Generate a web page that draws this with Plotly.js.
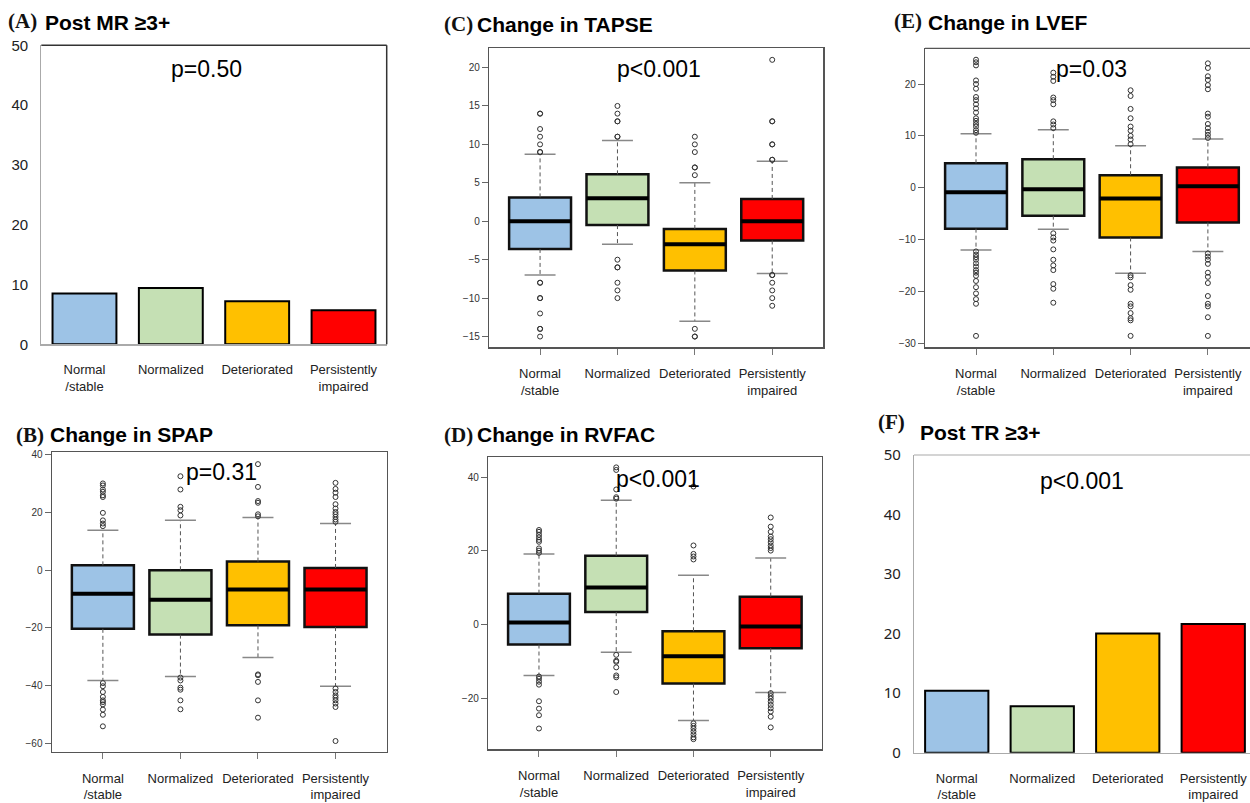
<!DOCTYPE html>
<html>
<head>
<meta charset="utf-8">
<script src="https://cdn.plot.ly/plotly-3.0.1.min.js"></script>
<style>html,body{margin:0;padding:0;background:#fff;}#chart{width:1250px;height:803px;}</style>
</head>
<body>
<div id="chart"></div>
<script>
// ---------- DATA ----------
const categories = ["Normal<br>/stable", "Normalized", "Deteriorated", "Persistently<br>impaired"];

// (A) Post MR >=3+ (%)
const postMR = [8.5, 9.4, 7.2, 5.7];
// (F) Post TR >=3+ (%)
const postTR = [10.4, 7.8, 20.0, 21.6];

// (C) Change in TAPSE
const tapseQ1 = [-3.6, -0.5, -6.4, -2.5];
const tapseMedian = [0, 3, -3, 0];
const tapseQ3 = [3.1, 6.1, -1.0, 2.9];
const tapseLowerWhisker = [-7.0, -3.0, -13.0, -6.8];
const tapseUpperWhisker = [8.7, 10.5, 5.0, 7.8];
const tapseOutliers = [
  [14, 14, 12, 11, 10, 9, 9, -8, -8, -10, -10, -12, -14, -14, -15],
  [15, 14, 13, 13, 11, 11, -5, -6, -6, -8, -9, -10],
  [11, 10, 9, 7, 7, 6, -14, -15, -15],
  [21, 13, 13, 10, 10, 8, 8, -7, -7, -8, -9, -10, -11]
];

// (B) Change in SPAP
const spapQ1 = [-20.3, -22.3, -19.1, -19.7];
const spapMedian = [-8.1, -10.2, -6.7, -6.7];
const spapQ3 = [1.7, 0.0, 3.0, 0.8];
const spapLowerWhisker = [-38.2, -36.8, -30.2, -40.2];
const spapUpperWhisker = [13.9, 17.3, 18.3, 16.2];
const spapOutliers = [
  [30.1, 29.4, 28.0, 27.2, 26.0, 25.4, 19.9, 17.3, 16.2, 15.3, -39.1, -40.2, -42.2, -43.9, -45.1, -45.7, -46.5, -48.3, -50.1, -54.1],
  [32.6, 28.0, 22.0, 20.8, 19.0, -37.2, -38.2, -40.7, -41.4, -45.1, -48.2],
  [36.8, 28.9, 24.0, 23.4, 19.4, 18.7, -36.1, -36.4, -38.7, -45.1, -51.1],
  [30.3, 28.2, 26.9, 25.4, 22.9, 21.4, 20.2, 19.4, 18.5, 17.6, 16.8, -41.0, -42.2, -43.4, -44.2, -45.1, -46.2, -47.4, -59.2]
];

// (D) Change in RVFAC
const rvfacQ1 = [-5.4, 3.4, -16.0, -6.4];
const rvfacMedian = [0.6, 10.1, -8.6, -0.5];
const rvfacQ3 = [8.4, 18.7, -1.8, 7.6];
const rvfacLowerWhisker = [-13.8, -7.5, -26.0, -18.4];
const rvfacUpperWhisker = [19.2, 33.8, 13.4, 18.1];
const rvfacOutliers = [
  [25.7, 25.2, 24.4, 23.7, 23.0, 22.5, 20.7, 20.1, 19.5, -14.1, -14.7, -15.5, -16.3, -20.8, -22.8, -24.6, -28.2],
  [42.7, 42.0, 36.7, 34.6, 34.2, -8.2, -9.8, -10.1, -11.6, -13.8, -14.3, -18.3],
  [37.5, 21.5, 19.2, 18.5, 17.7, -26.8, -27.5, -28.2, -29.0, -29.8, -30.6, -31.1],
  [29.1, 26.6, 25.2, 23.9, 23.2, 22.4, 21.5, 20.8, 20.1, -18.6, -19.4, -20.1, -20.9, -21.8, -22.7, -23.6, -25.0, -27.9]
];

// (E) Change in LVEF
const lvefQ1 = [-7.9, -5.4, -9.6, -6.7];
const lvefMedian = [-0.9, -0.3, -2.1, 0.3];
const lvefQ3 = [4.7, 5.5, 2.4, 3.9];
const lvefLowerWhisker = [-12.0, -8.0, -16.5, -12.3];
const lvefUpperWhisker = [10.4, 11.2, 8.1, 9.4];
const lvefOutliers = [
  [24.7, 24.2, 23.6, 20.7, 20.0, 19.1, 17.5, 16.9, 16.1, 15.3, 14.5, 13.4, 12.9, 12.3, 11.8, 11.1, 10.6,
   -12.3, -12.9, -13.4, -13.9, -14.6, -15.2, -15.9, -16.4, -17.0, -18.0, -19.2, -20.4, -21.5, -22.4, -28.6],
  [22.2, 21.4, 20.6, 17.4, 16.9, 16.1, 12.8, 12.2, 11.5, -8.8, -9.6, -10.2, -11.9, -13.9, -15.0, -15.9, -18.6, -19.5, -22.2],
  [18.8, 17.7, 15.2, 13.4, 11.8, 11.0, 10.0, 9.3, 8.4, -16.9, -17.3, -18.8, -19.7, -22.4, -22.9, -24.2, -25.2, -25.6, -28.6],
  [24.0, 23.1, 21.5, 20.8, 19.8, 19.0, 14.3, 13.7, 12.3, 11.5, 10.8, 10.2, 9.6,
   -12.7, -13.3, -13.9, -14.7, -16.4, -17.2, -18.4, -20.9, -22.4, -22.9, -25.0, -28.6]
];

// ---------- STYLE ----------
const fills = ["#9DC3E6", "#C5E0B4", "#FFC000", "#FF0000"];
const W = 1250, H = 803;
const PX = v => v / W;
const PY = v => 1 - v / H;
const SANS = "Liberation Sans, Arial, sans-serif";
const SERIF = "Liberation Serif, Times New Roman, serif";

const traces = [];

function barPanel(ax, values) {
  traces.push({
    type: "bar", xaxis: "x" + ax, yaxis: "y" + ax,
    x: categories, y: values, width: 0.74,
    marker: { color: fills, line: { color: "#000", width: 2 } },
    hoverinfo: "x+y"
  });
}

function boxPanel(ax, q1, med, q3, lo, hi, outl) {
  const xa = "x" + ax, ya = "y" + ax;
  const pos = categories.map((c, i) => i + 1);
  const wx = [], wy = [], sx = [], sy = [], mx = [], my = [];
  pos.forEach((p, i) => {
    wx.push(p, p, null, p, p, null);
    wy.push(q3[i], hi[i], null, q1[i], lo[i], null);
    sx.push(p - 0.2, p + 0.2, null, p - 0.2, p + 0.2, null);
    sy.push(hi[i], hi[i], null, lo[i], lo[i], null);
    mx.push(p - 0.4, p + 0.4, null);
    my.push(med[i], med[i], null);
  });
  traces.push({ type: "scatter", mode: "lines", xaxis: xa, yaxis: ya, x: wx, y: wy,
    line: { color: "#555", width: 1, dash: "4px,3px" }, hoverinfo: "skip" });
  traces.push({ type: "scatter", mode: "lines", xaxis: xa, yaxis: ya, x: sx, y: sy,
    line: { color: "#888", width: 1.5 }, hoverinfo: "skip" });
  pos.forEach((p, i) => {
    traces.push({
      type: "box", xaxis: xa, yaxis: ya, x: [p], name: categories[i],
      q1: [q1[i]], median: [med[i]], q3: [q3[i]],
      lowerfence: [q1[i]], upperfence: [q3[i]],
      width: 0.8, whiskerwidth: 0, boxpoints: false,
      fillcolor: fills[i], line: { color: "#111", width: 2.5 }
    });
  });
  traces.push({ type: "scatter", mode: "lines", xaxis: xa, yaxis: ya, x: mx, y: my,
    line: { color: "#000", width: 4 }, hoverinfo: "skip" });
  const ox = [], oy = [];
  outl.forEach((arr, i) => arr.forEach(v => { ox.push(pos[i]); oy.push(v); }));
  traces.push({ type: "scatter", mode: "markers", xaxis: xa, yaxis: ya, x: ox, y: oy,
    marker: { symbol: "circle-open", size: 5, color: "#333", line: { width: 1 } }, hoverinfo: "y" });
}

barPanel("", postMR);                                                        // A
boxPanel("2", spapQ1, spapMedian, spapQ3, spapLowerWhisker, spapUpperWhisker, spapOutliers);   // B
boxPanel("3", tapseQ1, tapseMedian, tapseQ3, tapseLowerWhisker, tapseUpperWhisker, tapseOutliers); // C
boxPanel("4", rvfacQ1, rvfacMedian, rvfacQ3, rvfacLowerWhisker, rvfacUpperWhisker, rvfacOutliers); // D
boxPanel("5", lvefQ1, lvefMedian, lvefQ3, lvefLowerWhisker, lvefUpperWhisker, lvefOutliers);       // E
barPanel("6", postTR);                                                       // F

function barX(n, d, range) {
  return { anchor: "y" + n, domain: d, range: range, showline: true, linecolor: "#aaa", linewidth: 1.2,
    ticks: "", showgrid: false, zeroline: false, fixedrange: true, ticklabelstandoff: 13,
    tickfont: { family: SANS, size: 13, color: "#222" } };
}
function barY(n, d, fam) {
  return { anchor: "x" + n, domain: d, range: [0, 50], tickvals: [0, 10, 20, 30, 40, 50], showline: true,
    linecolor: "#aaa", linewidth: 1.2, ticks: "", showgrid: false, zeroline: false, fixedrange: true,
    ticklabelstandoff: 9, tickfont: { family: fam, size: 15, color: "#222" } };
}
function boxX(n, d, range, mirror) {
  return { anchor: "y" + n, domain: d, range: range, tickvals: [1, 2, 3, 4], ticktext: categories,
    ticks: "outside", ticklen: 6, tickcolor: "#777", showline: true, linecolor: "#555", linewidth: 1.2,
    mirror: mirror, showgrid: false, zeroline: false, fixedrange: true, ticklabelstandoff: 8,
    tickfont: { family: SANS, size: 13, color: "#222" } };
}
function boxY(n, d, range, tv, mirror) {
  return { anchor: "x" + n, domain: d, range: range, tickvals: tv, ticks: "outside", ticklen: 6, tickcolor: "#666",
    showline: true, linecolor: "#555", linewidth: 1.2, mirror: mirror, showgrid: false, zeroline: false,
    fixedrange: true, tickfont: { family: SANS, size: 10, color: "#333" } };
}

const layout = {
  width: W, height: H, margin: { l: 0, r: 0, t: 0, b: 0 }, showlegend: false,
  paper_bgcolor: "#fff", plot_bgcolor: "#fff", boxmode: "overlay",
  font: { family: SANS },
  // A
  xaxis: barX("", [PX(41.3), PX(386.7)], [-0.5, 3.5]),
  yaxis: barY("", [PY(344.3), PY(45.3)], SANS),
  // B
  xaxis2: boxX("2", [PX(51.7), PX(386.7)], [0.34, 4.66], true),
  yaxis2: boxY("2", [PY(751.7), PY(452.3)], [-62.9, 40.9], [-60, -40, -20, 0, 20, 40], true),
  // C
  xaxis3: boxX("3", [PX(489), PX(823.3)], [0.34, 4.66], true),
  yaxis3: boxY("3", [PY(347.3), PY(48.3)], [-16.4, 22.5], [-15, -10, -5, 0, 5, 10, 15, 20], true),
  // D
  xaxis4: boxX("4", [PX(488), PX(821.7)], [0.34, 4.66], true),
  yaxis4: boxY("4", [PY(749.3), PY(456.7)], [-33.85, 45.6], [-20, 0, 20, 40], true),
  // E
  xaxis5: boxX("5", [PX(925), 1], [0.34, 4.545], false),
  yaxis5: boxY("5", [PY(347.3), PY(48.3)], [-30.8, 26.9], [-30, -20, -10, 0, 10, 20], false),
  // F
  xaxis6: barX("6", [PX(914), 1], [-0.5, 3.43]),
  yaxis6: barY("6", [PY(752.7), PY(455)], "Noto Sans, sans-serif"),
  shapes: [
    { type: "line", xref: "x domain", yref: "y domain", x0: 0, x1: 1, y0: 1, y1: 1, line: { color: "#333", width: 1.5 } },
    { type: "line", xref: "x domain", yref: "y domain", x0: 1, x1: 1, y0: 0, y1: 1, line: { color: "#333", width: 1.5 } },
    { type: "line", xref: "x5 domain", yref: "y5 domain", x0: 0, x1: 1, y0: 1, y1: 1, line: { color: "#555", width: 1.2 } },
    { type: "line", xref: "x6 domain", yref: "y6 domain", x0: 0, x1: 1, y0: 1, y1: 1, line: { color: "#aaa", width: 1.2 } }
  ],
  annotations: []
};

function label(x, y, letter) {
  layout.annotations.push({ xref: "paper", yref: "paper", x: PX(x), y: PY(y), xanchor: "left", yanchor: "middle",
    text: "<b>" + letter + "</b>", showarrow: false, font: { family: SERIF, size: 21, color: "#111" } });
}
function titleText(x, y, t) {
  layout.annotations.push({ xref: "paper", yref: "paper", x: PX(x), y: PY(y), xanchor: "left", yanchor: "middle",
    text: "<b>" + t + "</b>", showarrow: false, font: { family: SANS, size: 21, color: "#000" } });
}
function pval(x, y, t) {
  layout.annotations.push({ xref: "paper", yref: "paper", x: PX(x), y: PY(y), xanchor: "center", yanchor: "middle",
    text: t, showarrow: false, font: { family: SANS, size: 23, color: "#000" } });
}

label(6, 21, "(A)");  titleText(43, 22, "Post MR ≥3+");
label(442, 24, "(C)"); titleText(475, 24, "Change in TAPSE");
label(892, 21, "(E)"); titleText(926, 22, "Change in LVEF");
label(14, 435, "(B)"); titleText(48, 435, "Change in SPAP");
label(442, 435, "(D)"); titleText(475, 435, "Change in RVFAC");
label(876, 422, "(F)"); titleText(918, 432, "Post TR ≥3+");

pval(206, 69, "p=0.50");
pval(659, 69, "p<0.001");
pval(1091, 69, "p=0.03");
pval(221, 472, "p=0.31");
pval(658, 479, "p<0.001");
pval(1082, 481, "p<0.001");

Plotly.newPlot("chart", traces, layout, { staticPlot: true, displayModeBar: false });
</script>
</body>
</html>
